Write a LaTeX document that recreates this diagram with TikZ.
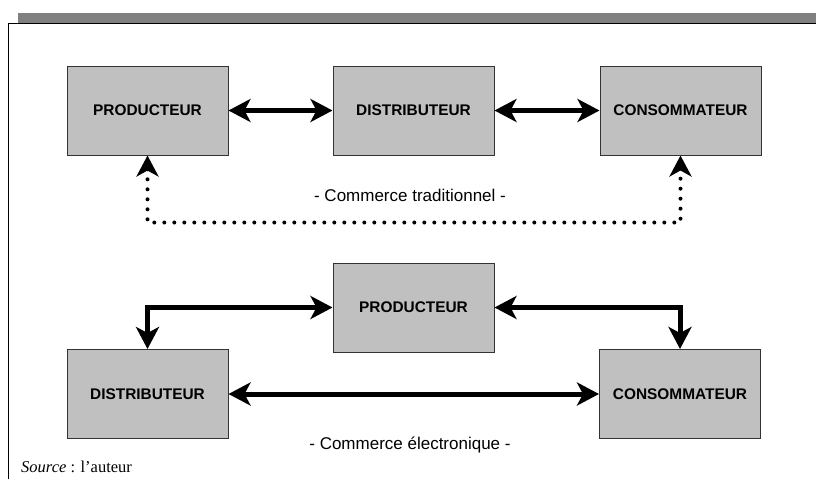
\documentclass[tikz,border=0pt]{standalone}
\usepackage{fontspec}
\setmainfont{Liberation Sans}
\newfontfamily\sourcefont{Liberation Serif}
\usepackage{xcolor}
\definecolor{comfond}{HTML}{C0C0C0}
\definecolor{combarre}{HTML}{808080}
\definecolor{combord}{HTML}{333333}
\usepackage{tikz}
\usetikzlibrary{arrows.meta,positioning}
\tikzset{
  combox/.style={draw=combord,line width=1pt,fill=comfond,minimum width=161pt,minimum height=89pt,inner sep=0pt,align=center,font=\fontsize{15.4}{18}\selectfont\bfseries},
  comflow/.style={{Stealth[length=22pt,width=23pt,inset=6pt]}-{Stealth[length=22pt,width=23pt,inset=6pt]},line width=5pt},
  comdots/.style={{Stealth[length=21pt,width=22pt,inset=6pt]}-{Stealth[length=21pt,width=22pt,inset=6pt]},line width=4pt,line cap=round,dash pattern=on 0pt off 10pt},
  comlabel/.style={font=\fontsize{17}{20}\selectfont,inner sep=0pt},
}
\begin{document}
\begin{tikzpicture}[x=1pt,y=-1pt,node distance=104pt]
\useasboundingbox (0,0) rectangle (816,479);
% cadre
\fill[combarre] (18,13) rectangle (816,23);
\draw[line width=1pt] (8,479) -- (8,23) -- (816,23);
% commerce traditionnel
\node[combox] (prod1) at (147.5,110.5) {PRODUCTEUR};
\node[combox,right=of prod1] (dist1) {DISTRIBUTEUR};
\node[combox,right=105pt of dist1] (cons1) {CONSOMMATEUR};
\draw[comflow] (prod1) -- (dist1);
\draw[comflow] (dist1) -- (cons1);
\draw[comdots] (prod1.south) -- ++(0,67) -| (cons1.south);
\node[comlabel] (trad) at (410,195.5) {- Commerce traditionnel -};
% commerce electronique
\node[combox] (prod2) at (413.5,307.5) {PRODUCTEUR};
\node[combox] (dist2) at (147.5,394) {DISTRIBUTEUR};
\node[combox] (cons2) at (680,394) {CONSOMMATEUR};
\draw[comflow] (prod2.west) -| (dist2.north);
\draw[comflow] (prod2.east) -| (cons2.north);
\draw[comflow] (dist2) -- (cons2);
\node[comlabel] (elec) at (410,445) {- Commerce électronique -};
\node[anchor=west,inner sep=0pt,font=\sourcefont\fontsize{16.5}{19}\selectfont] (source) at (21,467) {\textit{Source} : l’auteur};
\end{tikzpicture}
\end{document}
